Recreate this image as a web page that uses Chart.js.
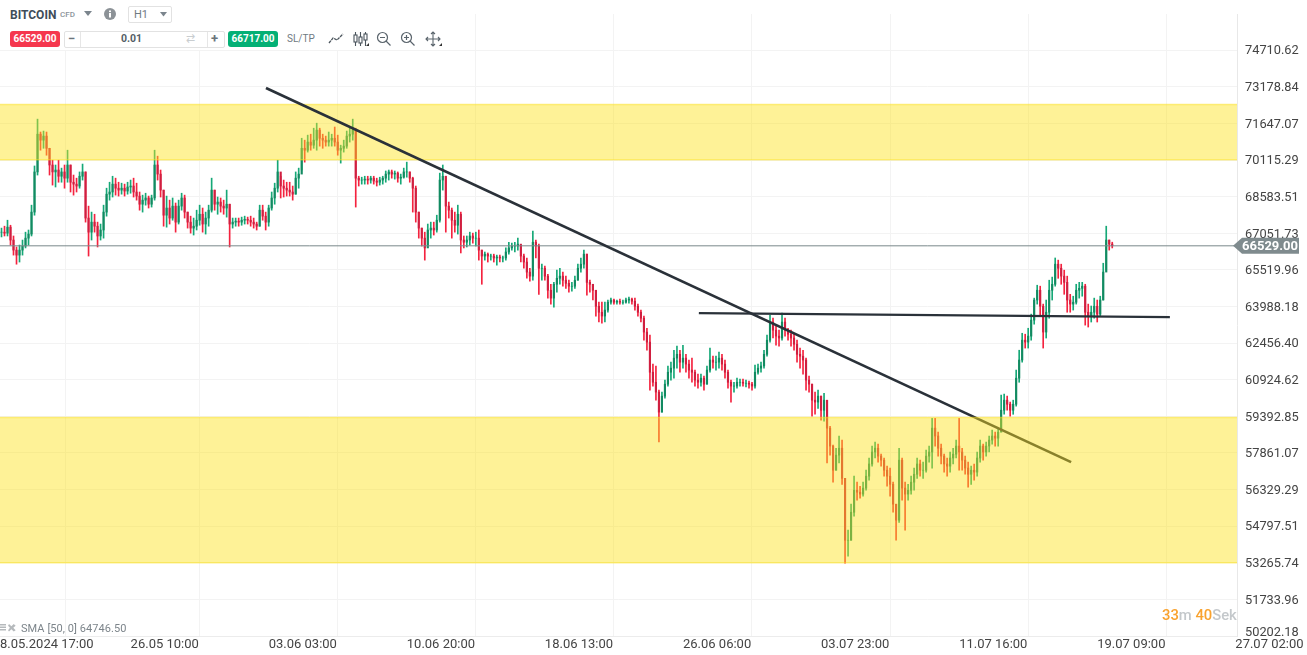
<!DOCTYPE html>
<html><head><meta charset="utf-8">
<script src="https://cdn.jsdelivr.net/npm/chart.js@4"></script>
<style>
html,body{margin:0;padding:0;background:#fff;overflow:hidden;font-family:Roboto,sans-serif}
#wrap{position:relative;width:1307px;height:655px;overflow:hidden}
canvas{position:absolute;left:0;top:0}
.t{position:absolute;white-space:nowrap;line-height:1}
.pill{position:absolute;border-radius:3px;color:#fff;font-weight:700;font-size:10px;text-align:center;line-height:16px;height:16px;width:50px;top:31px}
svg{position:absolute}
</style></head><body>
<div id="wrap">
<canvas id="c" width="1307" height="655"></canvas>
<div style="position:absolute;left:0;top:0;width:445px;height:50px;background:#fff"></div>
<div class="t" style="left:10px;top:9px;font-size:12px;font-weight:700;color:#3f4d59">BITCOIN</div>
<div class="t" style="left:60px;top:11px;font-size:8px;font-weight:500;color:#8b939a">CFD</div>
<svg style="left:84px;top:11px" width="9" height="6"><path d="M0 0H8L4 5Z" fill="#7b858d"/></svg>
<svg style="left:104px;top:8px" width="12" height="12"><circle cx="6" cy="6" r="6" fill="#8c9297"/><rect x="5" y="5" width="2" height="4.5" fill="#fff"/><rect x="5" y="2.5" width="2" height="1.6" fill="#fff"/></svg>
<div style="position:absolute;left:128px;top:6px;width:42px;height:15px;border:1px solid #e2e2e2;border-radius:2px"></div>
<div class="t" style="left:134px;top:9px;font-size:11px;color:#6f7a82">H1</div>
<svg style="left:160px;top:12px" width="8" height="5"><path d="M0 0H7L3.5 4.5Z" fill="#7b858d"/></svg>
<div class="pill" style="left:10px;background:#f5374e">66529.00</div>
<div style="position:absolute;left:64px;top:31px;width:159px;height:15px;border:1px solid #e2e2e2;border-radius:2px"></div>
<div style="position:absolute;left:80px;top:32px;width:1px;height:15px;background:#e6e6e6"></div>
<div style="position:absolute;left:207px;top:32px;width:1px;height:15px;background:#e6e6e6"></div>
<div class="t" style="left:68px;top:32px;font-size:13px;font-weight:700;color:#6b747b">−</div>
<div class="t" style="left:121px;top:34px;font-size:10.500px;font-weight:700;color:#555f67">0.01</div>
<div class="t" style="left:186px;top:33px;font-size:11px;color:#c9cdd0">⇄</div>
<div class="t" style="left:211px;top:32px;font-size:13px;font-weight:700;color:#6b747b">+</div>
<div class="pill" style="left:228px;background:#04b075">66717.00</div>
<div class="t" style="left:287px;top:34px;font-size:10px;color:#6f7a82">SL/TP</div>
<svg style="left:328px;top:31px" width="16" height="14"><path d="M1 12L5 7L9 9L15 3" fill="none" stroke="#4b555d" stroke-width="1.3" stroke-dasharray="3 .8"/></svg>
<svg style="left:353px;top:31px" width="16" height="16" fill="none" stroke="#4b555d" stroke-width="1.1"><path d="M2.5 1V15M7.500 1V15M12.500 1V15"/><rect x="1" y="4" width="3" height="7" fill="#fff"/><rect x="6" y="6" width="3" height="6" fill="#fff"/><rect x="11" y="3" width="3" height="6" fill="#fff"/></svg>
<svg style="left:366px;top:43px" width="4" height="4"><path d="M3 0V3H0Z" fill="#333"/></svg>
<svg style="left:376px;top:31px" width="16" height="16" fill="none" stroke="#5a646c" stroke-width="1.2"><circle cx="6.500" cy="6.500" r="5"/><path d="M10 10L14.500 14.500M4 6.500H9"/></svg>
<svg style="left:400px;top:31px" width="16" height="16" fill="none" stroke="#5a646c" stroke-width="1.2"><circle cx="6.500" cy="6.500" r="5"/><path d="M10 10L14.500 14.500M4 6.500H9M6.500 4V9"/></svg>
<svg style="left:425px;top:31px" width="16" height="16" fill="none" stroke="#5a646c" stroke-width="1.1"><path d="M8 1V15M1 8H15M6 3L8 1L10 3M6 13L8 15L10 13M3 6L1 8L3 10M13 6L15 8L13 10"/></svg>
<svg style="left:439px;top:43px" width="4" height="4"><path d="M3 0V3H0Z" fill="#333"/></svg>
<svg style="left:0;top:623px" width="18" height="10" fill="#b5b9bc"><rect x="0" y="1" width="6" height="1.500"/><rect x="0" y="3.500" width="6" height="1.500"/><rect x="0" y="6" width="6" height="1.500"/><path d="M10 1L12.500 3.500L15 1L17 3L14.500 5L17 7.500L15 9L12.500 6.500L10 9L9 7.500L11 5L9 3Z" transform="translate(-.5,0) scale(.95)"/></svg>
<div class="t" style="left:21px;top:623px;font-size:11px;letter-spacing:.06px;color:#7d858b">SMA [50, 0] 64746.50</div>
<div class="t" style="left:1162px;top:608px;font-size:14.800px;font-weight:500;color:#c4c8cb"><span style="color:#f9a22e">33</span>m <span style="color:#f9a22e">40</span>Sek</div>
</div>
<script>
const priceTicks=[74710.62,73178.84,71647.07,70115.29,68583.51,67051.73,65519.96,63988.18,62456.40,60924.62,59392.85,57861.07,56329.29,54797.51,53265.74,51733.96,50202.18];
const timeLabels=['8.05.2024 17:00','26.05 10:00','03.06 03:00','10.06 20:00','18.06 13:00','26.06 06:00','03.07 23:00','11.07 16:00','19.07 09:00','27.07 02:00'];
const timeTickIndex=[-0.5,43,89,135,181,227,273,319,365,411];
const firstOpen=67100;
const currentPrice=66529;
const highs=[
67270,67350,67600,67390,66940,66480,66560,66770,67100,67190,
68230,69870,71830,71290,71330,71290,70610,70110,69910,70110,
69780,69910,70530,69910,69490,69360,69620,69950,69620,68190,
67940,67850,67520,67440,68230,68940,69190,69440,69360,69190,
69150,69110,69190,69280,69360,69150,68780,68650,68730,68610,
68650,70530,70280,69700,68860,68610,68440,68530,68320,68440,
68730,68650,67940,67770,67690,68020,68230,68110,67940,68230,
69360,68860,68570,68530,68440,68860,68270,67690,67690,67690,
67730,67770,67730,67770,67690,67520,68230,68230,67940,68230,
68780,69150,70110,69440,69280,69190,69190,69030,69620,69780,
71030,70950,71160,71200,71450,71660,71450,71200,71120,71290,
71200,71500,71160,70740,70950,71330,71450,71830,71450,69440,
69400,69440,69440,69440,69440,69360,69400,69440,69660,69700,
69700,69660,69620,69530,69780,70030,69620,69400,69030,67940,
67270,67100,67440,67520,67520,67810,69570,69910,69440,68360,
68110,67940,68230,67940,66940,66940,67100,67060,67100,67190,
66350,66270,66230,66180,66180,66140,66140,66100,66440,66680,
66640,66680,66850,66520,66180,66020,65590,67150,66770,66600,
65760,65680,65340,64920,65000,65510,65590,65430,65260,65090,
65000,65260,65760,66020,66350,66180,65090,64920,64590,64170,
64170,64170,64260,64340,64300,64260,64300,64260,64340,64380,
64340,64340,64090,63840,63590,63080,62790,61580,61500,60490,
60410,60910,61500,61660,62160,62330,62160,62370,61990,61750,
61830,61330,61160,61160,61080,61500,62250,61910,61910,62080,
61990,61750,61330,60910,60820,60990,60950,60950,60910,60870,
60820,61540,61580,61660,62160,62790,63630,63500,63170,63000,
63710,63500,63080,63000,62830,62580,62250,62160,61830,61080,
60740,60410,60490,60240,60360,59230,58980,58190,58060,58570,
58400,56800,54630,55720,56890,56640,56470,56640,57140,57650,
58150,58320,58230,57810,57650,57310,57230,56640,55680,58060,
57650,56640,56550,56890,57230,57650,57560,57480,57980,58150,
59310,59310,58730,58230,57810,57650,57900,58060,58400,59310,
58060,57730,57480,57310,57400,57900,58400,58230,58320,58570,
58820,58730,58900,60280,60320,60240,59990,60070,61330,62160,
62870,62830,63080,63670,64340,64880,64840,64090,64260,65090,
65220,66020,65930,65760,65510,65260,64500,64420,64920,65000,
65000,64920,64090,64010,64340,64260,64420,65800,67350,66770,
66680];
const lows=[
66900,66940,66940,66560,66140,65760,65850,66140,66440,66560,
66940,67810,69490,70530,70610,70320,69490,69070,68990,69190,
69190,68940,69190,68780,68650,68780,68940,69280,67520,66100,
66770,67100,66480,66770,66850,67770,68440,68570,68650,68610,
68690,68610,68690,68730,68570,68440,68020,67940,68230,68110,
68150,68440,69280,68570,67350,67310,67440,67600,67100,67440,
68020,67690,67270,67060,66980,67190,67390,67100,67020,67350,
67940,68020,67850,67940,67850,67730,66480,67270,67350,67350,
67390,67440,67440,67350,67270,67190,67350,67600,67190,67350,
68020,68270,68780,68530,68570,68610,68610,68440,68690,68940,
69700,70030,70450,70530,70610,70530,70700,70610,70700,70700,
70700,70700,70320,69990,70450,70610,70870,70950,68150,69030,
69110,69110,69110,69150,69110,69030,69070,69110,69190,69280,
69360,69320,69190,69110,69360,69400,69190,67940,67520,66850,
66520,65930,66560,66850,66980,67100,67520,68860,67100,67690,
66850,67100,67020,66230,66440,66480,66560,66640,66520,65930,
64920,65930,65850,65930,65850,65720,65850,65850,65930,66180,
66350,66270,66350,65850,65590,65170,65050,65090,66020,64500,
65090,65090,64340,64090,63960,64590,64920,64840,64750,64590,
64630,64750,65090,65430,65590,64460,64590,64260,63590,63340,
63290,63340,63750,64090,64090,64090,64090,64090,64130,64130,
64090,63840,63590,63340,62580,62160,60490,60660,60070,58320,
59570,60150,60660,60910,60990,61410,61240,61410,61240,60990,
60820,60660,60570,60660,60490,60740,61240,61410,61330,61410,
61330,60990,60570,59990,60410,60570,60660,60660,60620,60570,
60490,60570,61160,61240,61410,61910,62500,62670,62370,62330,
62580,62750,62580,62330,62160,61660,61410,61160,60490,60410,
59400,59480,59730,59230,59190,57440,57770,56640,57140,57440,
56550,53250,53540,54210,55220,55890,55970,56050,56300,56720,
57310,57650,57480,57310,56890,56470,56050,55380,54210,54960,
55890,54630,55890,56140,56300,56800,56890,56800,57060,57480,
57230,58150,57730,57400,57060,56890,57060,57400,57650,57140,
57140,56970,56430,56550,56720,56890,57480,57560,57730,57900,
58230,58150,58150,58820,59480,59650,59400,59480,59820,60820,
61660,62250,62250,62580,63250,64090,63590,62250,62670,63500,
64260,64840,65170,64920,64500,63750,63750,63840,64090,64340,
64420,63210,63130,63340,63500,63340,63590,64260,65510,66350,
66440];
const closes=[
67100,67060,67310,66770,66350,66140,66350,66520,66850,67020,
67940,69620,71200,70950,71120,70610,69910,69620,69700,69440,
69620,69360,69910,69190,69110,69030,69440,69620,67690,67100,
67520,67350,66940,67190,67940,68690,68780,69110,68940,68860,
68940,68820,68990,69030,68780,68610,68270,68440,68530,68270,
68530,69910,69530,68860,67810,68110,67690,68190,67520,68190,
68530,67940,67520,67270,67350,67600,67850,67440,67690,68020,
68860,68270,68360,68190,68110,68270,67440,67520,67560,67520,
67600,67640,67600,67520,67440,67350,68020,67770,67520,68110,
68530,68940,69620,69030,68940,68860,68780,68690,69360,69530,
70610,70530,70870,70740,70950,71370,71030,70950,70870,70950,
71030,70870,70530,70610,70700,71120,71200,71370,69360,69280,
69280,69320,69280,69360,69240,69190,69280,69360,69530,69620,
69530,69570,69360,69400,69620,69620,69360,68940,67940,67270,
66850,66440,67190,67270,67190,67600,69280,69440,68190,68020,
67600,67390,67850,66770,66680,66770,66940,66850,66850,66350,
66100,66180,66100,66100,66020,66060,66020,66020,66270,66440,
66520,66520,66600,66100,65850,65430,65260,66680,66520,65590,
65590,65260,64670,64340,64920,65170,65260,65090,64960,64840,
64840,65090,65590,65760,66180,65000,64920,64670,64000,63750,
63590,63840,64170,64260,64170,64210,64170,64170,64260,64300,
64210,64000,63750,63500,62920,62500,61240,60820,60410,59570,
60240,60740,61240,61410,61830,61990,61660,61830,61580,61330,
61240,60910,60820,60990,60740,61330,61750,61660,61660,61830,
61580,61240,60820,60660,60660,60820,60820,60780,60780,60740,
60660,61240,61410,61500,61990,62580,63340,63000,62750,62670,
63340,63000,62830,62670,62410,61990,61910,61750,60910,60740,
60070,59990,60240,59650,60070,58900,58150,57140,57770,58060,
56800,54210,54210,55380,56300,56220,56140,56390,56890,57400,
57900,58060,57730,57560,57140,56890,56550,55720,55050,57560,
56390,56140,56300,56640,56970,57400,57140,57140,57730,57900,
58900,58570,58060,57730,57400,57310,57650,57810,58150,57900,
57560,57230,56970,57140,57060,57650,58150,57900,58150,58400,
58570,58480,58730,59650,60070,59900,59650,59900,60990,61750,
62580,62500,62750,63420,64260,64670,64000,62920,63750,64670,
64920,65760,65590,65260,65000,64260,64090,64170,64670,64750,
64840,63750,63590,63750,64000,63670,64260,65430,66770,66600,
66529];
const zoneUpper=[72440,70130];
const zoneLower=[59340,53270];
const trendDownX=[88.1,356.3], trendDownY=[73132,57480];
const trendFlatX=[232.3,389.2], trendFlatY=[63716,63549];

const xMin=-0.5,xMax=411.56;
const zoneStart=xMin-2,zoneEnd=xMax+2;
const opens=closes.map((c,i)=>i?closes[i-1]:firstOpen);
const isUp=i=>closes[i]>=opens[i];
const zoneFill='rgba(253,226,26,0.455)', zoneEdge='rgba(253,226,26,0.5)';
const zone=(top,bot,order)=>[
 {type:'line',order,data:[{x:zoneStart,y:top},{x:zoneEnd,y:top}],borderColor:zoneEdge,borderWidth:1.5,backgroundColor:zoneFill,fill:{value:bot},pointRadius:0},
 {type:'line',order,data:[{x:zoneStart,y:bot},{x:zoneEnd,y:bot}],borderColor:zoneEdge,borderWidth:1.5,pointRadius:0,fill:false}];
const seg=(xs,ys,color,w,order)=>({type:'line',order,data:xs.map((x,i)=>({x,y:ys[i]})),borderColor:color,borderWidth:w,pointRadius:0,fill:false});
const noPad=s=>{s.paddingTop=s.paddingBottom=s.paddingLeft=s.paddingRight=0};

const priceTag={id:'priceTag',afterDraw(ch){
 const y=ch.scales.y.getPixelForValue(currentPrice),c=ch.ctx,l=ch.chartArea.right-4,r=1299;
 c.save();c.fillStyle='#7f8b8e';c.beginPath();c.moveTo(l,y);c.lineTo(l+9,y-8);c.lineTo(r,y-8);c.lineTo(r,y+8);c.lineTo(l+9,y+8);c.closePath();c.fill();
 c.fillStyle='#fff';c.font='700 13px Roboto';c.textBaseline='middle';c.textAlign='right';c.fillText(currentPrice.toFixed(2),r-1,y+.5);c.restore();
}};
new Chart(document.getElementById('c'),{
 type:'bar',
 data:{datasets:[
  {label:'wick',order:20,data:closes.map((_,i)=>({x:i,y:[lows[i],highs[i]]})),backgroundColor:closes.map((_,i)=>isUp(i)?'#16a877':'#f4233f'),barThickness:1,grouped:false},
  {label:'body',order:19,data:closes.map((_,i)=>({x:i,y:[opens[i],closes[i]]})),backgroundColor:closes.map((_,i)=>isUp(i)?'#128a61':'#d01f40'),barThickness:1.5,grouped:false},
  seg([xMin,xMax],[currentPrice,currentPrice],'#7a888b',1,18),
  ...zone(zoneUpper[0],zoneUpper[1],17),
  seg(trendDownX,trendDownY,'#2a3139',2.6,16),
  seg(trendFlatX,trendFlatY,'#2a3139',2.2,16),
  ...zone(zoneLower[0],zoneLower[1],15)
 ]},
 options:{
  responsive:false,animation:false,devicePixelRatio:1,
  layout:{autoPadding:false,padding:{top:14,left:0,right:0,bottom:0}},
  plugins:{legend:{display:false},tooltip:{enabled:false}},
  scales:{
   x:{type:'linear',min:xMin,max:xMax,offset:false,
    afterBuildTicks:s=>{s.ticks=timeTickIndex.map(v=>({value:v}))},
    afterFit:s=>{s.height=19;noPad(s)},
    grid:{color:c=>c.tick&&c.tick.value===xMin?'transparent':'#f3f3f3',drawTicks:false},
    border:{color:'#ececec'},
    ticks:{autoSkip:false,maxRotation:0,align:'start',padding:1,color:'#444',font:{family:'Roboto',size:13},
     callback:v=>timeLabels[timeTickIndex.indexOf(v)]}},
   y:{type:'linear',position:'right',min:50202.18,max:76229,
    afterBuildTicks:s=>{s.ticks=priceTicks.map(v=>({value:v}))},
    afterFit:s=>{s.width=70;noPad(s)},
    grid:{color:'#f3f3f3',drawTicks:false},
    border:{color:'#e8e8e8'},
    ticks:{padding:8,labelOffset:1,autoSkip:false,color:'#444',
     font:c=>({family:'Roboto',size:12.8,lineHeight:c.tick&&c.tick.value===50202.18?'9px':1.2}),
     callback:v=>v===50202.18?[v.toFixed(2),'']:v.toFixed(2)}}
  }
 },
 plugins:[priceTag]
});
</script>
</body></html>
